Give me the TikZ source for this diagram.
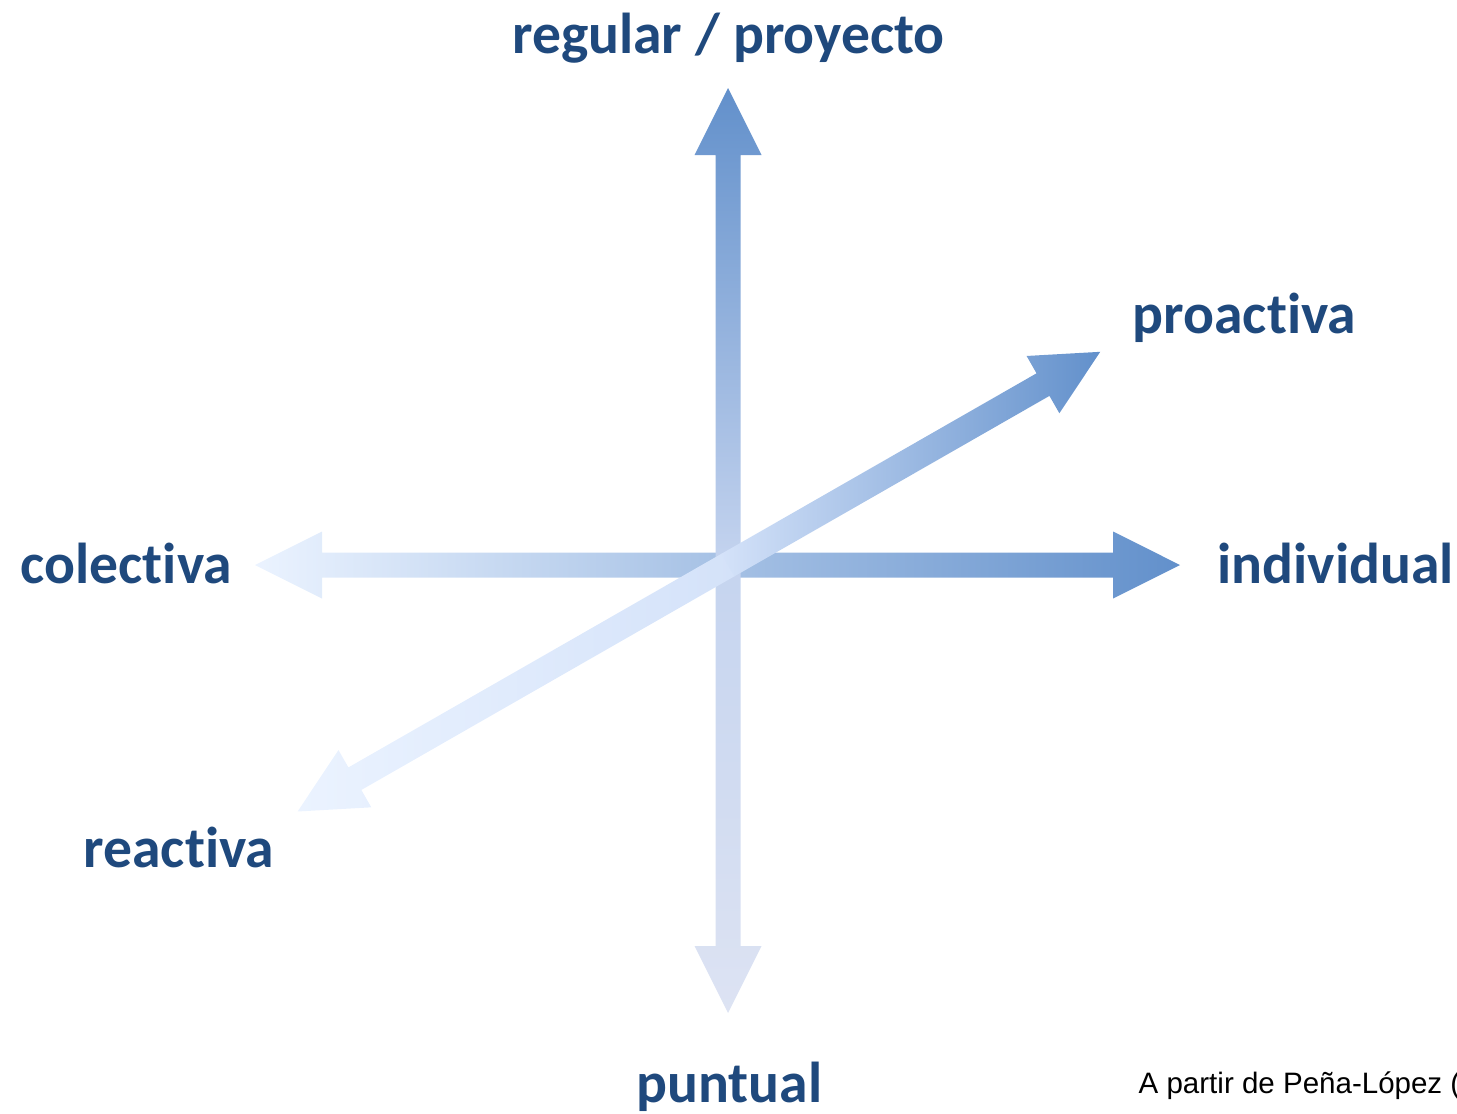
\documentclass[tikz,border=0pt]{standalone}
\usepackage{fontspec}
\usepackage{tikz}
\newfontfamily\etiqfont[Ligatures=NoCommon]{Carlito}
\newfontfamily\notafont{Liberation Sans}
\definecolor{azultexto}{RGB}{31,73,125}
\definecolor{azulfuerte}{RGB}{98,144,203}
\definecolor{azulmedio}{RGB}{197,212,239}
\definecolor{azulclaro}{RGB}{212,226,249}
\definecolor{azulpalido}{RGB}{235,243,255}
\definecolor{azulgris}{RGB}{221,227,243}

\begin{document}
\begin{tikzpicture}[scale=1,
  etiqueta/.style={text=azultexto,inner sep=0pt,font=\etiqfont\fontsize{16.4}{20}\selectfont\bfseries}]
\useasboundingbox (0,0) rectangle (14.57,11.13);
% eje horizontal
\shade [left color=azulpalido, middle color=azulclaro, right color=azulfuerte]
  (2.55,5.48)--(3.22,5.815)--(3.22,5.605)--(11.13,5.605)--(11.13,5.815)--(11.80,5.48)
  --(11.13,5.145)--(11.13,5.355)--(3.22,5.355)--(3.22,5.145)--cycle;
% eje vertical, mitad inferior
\shade [top color=azulmedio, bottom color=azulgris]
  (7.155,5.48)--(7.405,5.48)--(7.405,1.67)--(7.615,1.67)--(7.28,1.00)--(6.945,1.67)--(7.155,1.67)--cycle;
% eje vertical, mitad superior
\shade [bottom color=azulmedio, top color=azulfuerte]
  (7.155,5.48)--(7.405,5.48)--(7.405,9.58)--(7.615,9.58)--(7.28,10.25)--(6.945,9.58)--(7.155,9.58)--cycle;
% eje diagonal
\begin{scope}[shift={(7.28,5.48)},rotate=29.8]
\shade [left color=azulpalido, right color=azulclaro]
  (-4.96,0)--(-4.30,0.33)--(-4.30,0.13)--(0.01,0.13)--(0.01,-0.13)--(-4.30,-0.13)--(-4.30,-0.33)--cycle;
\shade [left color=azulclaro, right color=azulfuerte]
  (0,0.13)--(3.63,0.13)--(3.63,0.33)--(4.29,0)--(3.63,-0.33)--(3.63,-0.13)--(0,-0.13)--cycle;
\end{scope}
% etiquetas
\node [etiqueta,anchor=base] (regular) at (7.285,10.60) {regular / proyecto};
\node [etiqueta,anchor=base] (puntual) at (7.295,0.11) {puntual};
\node [etiqueta,anchor=base west] (individual) at (12.17,5.30) {individual};
\node [etiqueta,anchor=base west] (colectiva) at (0.20,5.30) {colectiva};
\node [etiqueta,anchor=base west] (proactiva) at (11.32,7.80) {proactiva};
\node [etiqueta,anchor=base west] (reactiva) at (0.83,2.46) {reactiva};
\node [anchor=base west,inner sep=0pt,font=\notafont\fontsize{8.4}{10}\selectfont] (fuente) at (11.38,0.20) {A partir de Peña-López (};
\end{tikzpicture}
\end{document}
